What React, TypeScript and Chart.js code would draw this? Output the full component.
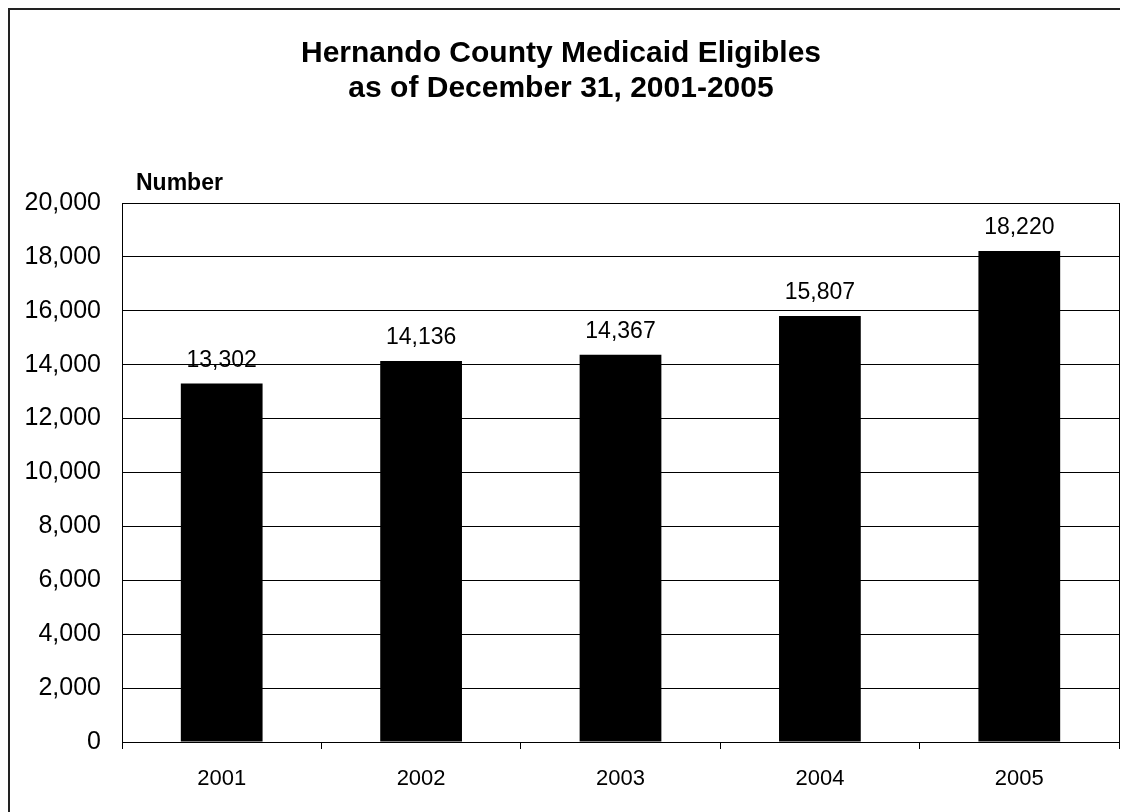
import React, { useEffect, useRef } from "react";
import { Chart, registerables } from "chart.js";

Chart.register(...registerables);

const categories = ["2001", "2002", "2003", "2004", "2005"];
const eligibles = [13302, 14136, 14367, 15807, 18220];
const titleLines = ["Hernando County Medicaid Eligibles", "as of December 31, 2001-2005"];
const yAxisLabel = "Number";
const yMin = 0;
const yMax = 20000;
const yStep = 2000;

const FONT = "'Liberation Sans', Arial, sans-serif";

const fmt = (v: number) => v.toLocaleString("en-US");

const decorPlugin = {
  id: "decor",
  afterDatasetsDraw(chart: any) {
    const { ctx, chartArea } = chart;
    ctx.save();
    // right border of plot area with tick below
    ctx.strokeStyle = "#000";
    ctx.lineWidth = 1;
    ctx.beginPath();
    ctx.moveTo(Math.round(chartArea.right) + 0.5, chartArea.top);
    ctx.lineTo(Math.round(chartArea.right) + 0.5, chartArea.bottom + 7);
    ctx.stroke();

    // data labels
    const meta = chart.getDatasetMeta(0);
    ctx.fillStyle = "#000";
    ctx.font = `23px ${FONT}`;
    ctx.textAlign = "center";
    ctx.textBaseline = "alphabetic";
    meta.data.forEach((bar: any, i: number) => {
      ctx.fillText(fmt(chart.data.datasets[0].data[i]), bar.x, bar.y - 17);
    });

    // title
    ctx.font = `bold 30px ${FONT}`;
    ctx.textAlign = "center";
    ctx.fillText(titleLines[0], 551, 52);
    ctx.fillText(titleLines[1], 551, 87);

    // axis label
    ctx.font = `bold 23px ${FONT}`;
    ctx.textAlign = "left";
    ctx.fillText(yAxisLabel, 126, 180);
    ctx.restore();
  },
};

export default function App() {
  const ref = useRef<HTMLCanvasElement>(null);
  useEffect(() => {
    if (!ref.current) return;
    const chart = new Chart(ref.current, {
      type: "bar",
      data: {
        labels: categories,
        datasets: [
          {
            data: eligibles,
            backgroundColor: "#000",
            borderWidth: 0,
            categoryPercentage: 1,
            barPercentage: 0.41,
          },
        ],
      },
      options: {
        animation: false,
        responsive: false,
        maintainAspectRatio: false,
        layout: { padding: { top: 193, right: 9, left: 0, bottom: 0 } },
        plugins: {
          legend: { display: false },
          title: { display: false },
          tooltip: { enabled: false },
        },
        scales: {
          x: {
            afterFit(scale: any) {
              scale.height = 70;
            },
            grid: {
              offset: true,
              drawOnChartArea: false,
              drawTicks: true,
              tickLength: 7,
              color: "#000",
            },
            border: { color: "#000", width: 1 },
            ticks: {
              color: "#000",
              font: { family: FONT, size: 22 },
              padding: 17,
            },
          },
          y: {
            min: yMin,
            max: yMax,
            afterFit(scale: any) {
              scale.width = 112;
            },
            grid: { color: "#000", drawTicks: false, lineWidth: 1 },
            border: { color: "#000", width: 1 },
            ticks: {
              stepSize: yStep,
              color: "#000",
              padding: 21,
              font: { family: FONT, size: 25 },
              callback: (v: any) => fmt(Number(v)),
            },
          },
        },
      },
      plugins: [decorPlugin],
    });
    return () => chart.destroy();
  }, []);

  return (
    <div
      style={{
        width: 1118,
        height: 802,
        borderTop: "2px solid #222",
        borderLeft: "2px solid #222",
        background: "#fff",
        overflow: "hidden",
      }}
    >
      <canvas ref={ref} width={1118} height={802} style={{ display: "block" }} />
    </div>
  );
}
